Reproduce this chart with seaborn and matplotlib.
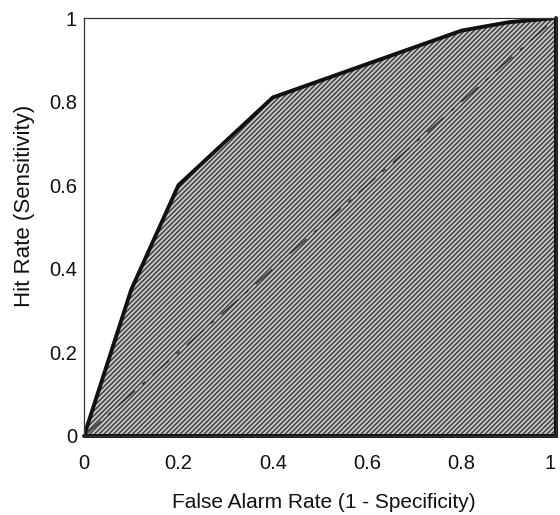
import matplotlib
matplotlib.use("Agg")
import matplotlib.pyplot as plt
import seaborn as sns
import pandas as pd

# Data
false_alarm = [0.0, 0.1, 0.2, 0.4, 0.6, 0.8, 0.9, 1.0]
hit_rate = [0.0, 0.35, 0.60, 0.81, 0.89, 0.97, 0.99, 1.0]
chance = [0.0, 1.0]
tick_vals = [0, 0.2, 0.4, 0.6, 0.8, 1]
tick_labels = ["0", "0.2", "0.4", "0.6", "0.8", "1"]
x_label = "False Alarm Rate (1 - Specificity)"
y_label = "Hit Rate (Sensitivity)"

sns.set_style("white")
plt.rcParams["font.family"] = ["Liberation Sans", "DejaVu Sans"]
plt.rcParams["hatch.color"] = "#3a3a3a"
plt.rcParams["hatch.linewidth"] = 1.0

df = pd.DataFrame({"fa": false_alarm, "hit": hit_rate})
df_chance = pd.DataFrame({"fa": chance, "hit": chance})

fig = plt.figure(figsize=(5.6, 5.15), dpi=100)
ax = fig.add_axes([0.15, 0.1534, 0.843, 0.8116])

# Hatched area under the curve
ax.fill_between(df["fa"], 0, df["hit"], facecolor="#c4c4c4",
                hatch="///////", edgecolor="#3a3a3a", linewidth=0)

sns.lineplot(data=df_chance, x="fa", y="hit", ax=ax, color="#333333",
             linewidth=1.0, linestyle=(0, (16, 7, 3, 7)))
sns.lineplot(data=df, x="fa", y="hit", ax=ax, color="#111111",
             linewidth=2.8, sort=False)
# polygon outline along right edge and bottom
ax.plot([1, 1, 0], [1, 0, 0], color="#111111", linewidth=2.8,
        solid_joinstyle="miter", clip_on=False)

ax.set_xlim(0, 1)
ax.set_ylim(0, 1)
ax.set_xticks(tick_vals)
ax.set_xticklabels(tick_labels)
ax.set_yticks(tick_vals)
ax.set_yticklabels(tick_labels)
ax.tick_params(direction="in", length=6, width=0.8, labelsize=14.5,
               color="#222222", labelcolor="#111111")
ax.tick_params(axis="x", pad=13)
ax.tick_params(axis="y", pad=5)
# keep the last x tick label inside the figure edge
ax.get_xticklabels()[-1].set_horizontalalignment("right")
for s in ax.spines.values():
    s.set_color("#333333")
    s.set_linewidth(0.9)

ax.set_xlabel("")
ax.set_ylabel("")
fig.text(324 / 560, 1 - 503 / 515, x_label, fontsize=15, color="#111111",
         ha="center", va="center")
fig.text(25 / 560, 1 - 206 / 515, y_label, fontsize=16, color="#111111",
         ha="center", va="center", rotation=90)

fig.savefig("out.png", dpi=100)
